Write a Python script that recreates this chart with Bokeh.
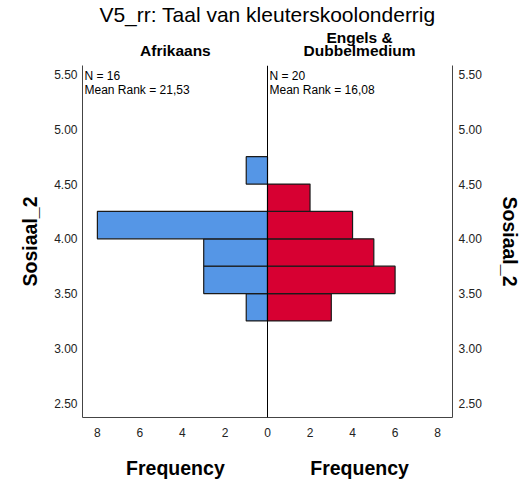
import numpy as np
from bokeh.plotting import figure
from bokeh.models import (ColumnDataSource, Span, Label, LinearAxis, FixedTicker,
                          PrintfTickFormatter, Range1d, Title)
from bokeh.embed import file_html
from bokeh.resources import INLINE

# ---- data ----
bin_centers = [3.375, 3.625, 3.875, 4.125, 4.375, 4.625]
bin_width = 0.25
afrikaans_counts = [1, 3, 3, 8, 0, 1]
engels_counts = [3, 6, 5, 4, 2, 0]
y_ticks = [2.5, 3.0, 3.5, 4.0, 4.5, 5.0, 5.5]
x_ticks = [-8, -6, -4, -2, 0, 2, 4, 6, 8]
x_tick_labels = {t: str(abs(t)) for t in x_ticks}

title_text = "V5_rr: Taal van kleuterskoolonderrig"
group_left = "Afrikaans"
group_right = ["Engels &", "Dubbelmedium"]
n_left, rank_left = "N = 16", "Mean Rank = 21,53"
n_right, rank_right = "N = 20", "Mean Rank = 16,08"
y_label = "Sosiaal_2"
x_label = "Frequency"

FONT = "Liberation Sans"
BLUE = "#5596E6"
RED = "#D70032"

# centres of the two halves (data units) used to place group texts
LEFT_MID = -4.33
RIGHT_MID = 4.33

p = figure(width=514, height=481, output_backend="svg", toolbar_location=None,
           x_range=Range1d(-8.7, 8.7), y_range=Range1d(2.368, 5.583),
           frame_width=370, frame_height=352,
           min_border_left=82, min_border_right=62, min_border_top=65, min_border_bottom=64)
p.outline_line_color = None
p.xgrid.visible = False
p.ygrid.visible = False

left_src = ColumnDataSource(dict(
    y=[c for c, v in zip(bin_centers, afrikaans_counts) if v > 0],
    left=[-v for v in afrikaans_counts if v > 0],
))
right_src = ColumnDataSource(dict(
    y=[c for c, v in zip(bin_centers, engels_counts) if v > 0],
    right=[v for v in engels_counts if v > 0],
))
p.hbar(y="y", left="left", right=0, height=bin_width, source=left_src,
       fill_color=BLUE, line_color="#1a1a1a", line_width=1.2)
p.hbar(y="y", left=0, right="right", height=bin_width, source=right_src,
       fill_color=RED, line_color="#1a1a1a", line_width=1.2)

p.add_layout(Span(location=0, dimension="height", line_color="black", line_width=1))


def style_axis(ax, standoff, size="12px", bold=False, line=True):
    ax.axis_line_color = "#444444" if line else None
    ax.axis_line_width = 1
    ax.major_tick_line_color = None
    ax.minor_tick_line_color = None
    ax.major_tick_out = 0
    ax.major_tick_in = 0
    ax.minor_tick_out = 0
    ax.minor_tick_in = 0
    ax.major_label_standoff = standoff
    ax.major_label_text_font = FONT
    ax.major_label_text_font_size = size
    ax.major_label_text_font_style = "bold" if bold else "normal"
    ax.major_label_text_color = "#222222" if not bold else "black"


def style_axis_label(ax, standoff):
    ax.axis_label = y_label
    ax.axis_label_text_font = FONT
    ax.axis_label_text_font_size = "19.5px"
    ax.axis_label_text_font_style = "bold"
    ax.axis_label_text_color = "black"
    ax.axis_label_standoff = standoff


# left y axis
ya = p.yaxis[0]
ya.ticker = FixedTicker(ticks=y_ticks)
ya.formatter = PrintfTickFormatter(format="%.2f")
style_axis(ya, 5)
style_axis_label(ya, 10)

# right y axis
ra = LinearAxis(ticker=FixedTicker(ticks=y_ticks), formatter=PrintfTickFormatter(format="%.2f"))
style_axis(ra, 6)
style_axis_label(ra, 14)
p.add_layout(ra, "right")

# bottom x axis
xa = p.xaxis[0]
xa.ticker = FixedTicker(ticks=x_ticks)
xa.major_label_overrides = x_tick_labels
style_axis(xa, 10)

# second row below: the two "Frequency" labels
fa = LinearAxis(ticker=FixedTicker(ticks=[LEFT_MID, RIGHT_MID]),
                major_label_overrides={LEFT_MID: x_label, RIGHT_MID: x_label})
style_axis(fa, 17, size="19.5px", bold=True, line=False)
p.add_layout(fa, "below")

# above: group headers (closest to frame first)
ga = LinearAxis(ticker=FixedTicker(ticks=[LEFT_MID, RIGHT_MID]),
                major_label_overrides={LEFT_MID: group_left, RIGHT_MID: group_right[1]})
style_axis(ga, 7, size="15.5px", bold=True, line=False)
p.add_layout(ga, "above")
gb = LinearAxis(ticker=FixedTicker(ticks=[RIGHT_MID]),
                major_label_overrides={RIGHT_MID: group_right[0]})
style_axis(gb, -7, size="15.5px", bold=True, line=False)
p.add_layout(gb, "above")

p.add_layout(Title(text=title_text, align="center", text_font=FONT, text_font_size="21px",
                   text_font_style="normal", text_color="black", standoff=0), "above")


def lab(x, y, text):
    p.add_layout(Label(x=x, y=y, text=text, text_font=FONT, text_font_size="12px",
                       text_align="left", text_baseline="middle", text_color="black"))


lab(-8.606, 5.487, n_left)
lab(-8.606, 5.363, rank_left)
lab(0.094, 5.487, n_right)
lab(0.094, 5.363, rank_right)

open("out.html", "w").write(file_html(p, INLINE))
